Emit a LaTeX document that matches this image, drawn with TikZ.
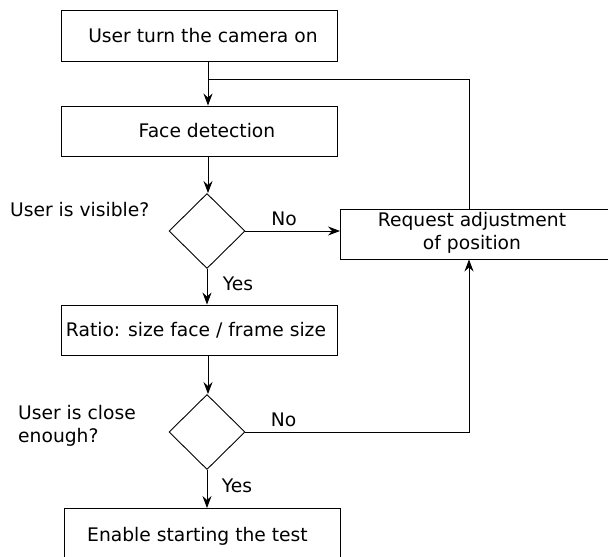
\documentclass[tikz,border=0pt]{standalone}
\usepackage{fontspec}
\setmainfont{DejaVu Sans}
\usetikzlibrary{shapes.geometric,arrows.meta}
\begin{document}
\begin{tikzpicture}[x=1pt,y=-1pt,
  every node/.style={font=\fontsize{18.7}{23.5}\selectfont, inner sep=0pt},
  procbox/.style={draw, line width=0.9pt, rectangle, minimum width=276pt, minimum height=50pt},
  decbox/.style={draw, line width=0.9pt, diamond, minimum width=76pt, minimum height=75pt},
  arr/.style={line width=0.9pt, -{Stealth[length=12pt,width=9pt,inset=4pt]}},
  plain/.style={line width=0.9pt}]
\useasboundingbox (0,0) rectangle (608,557);
\clip (0,0) rectangle (608,557);
% process boxes
\node[procbox, minimum height=51pt] (box1) at (199,35.5) {\hspace*{8pt}User turn the camera on};
\node[procbox] (box2) at (199,131) {\hspace*{16pt}Face detection};
\node[decbox] (dia1) at (207,231) {};
\node[procbox] (box3) at (199,330) {Ratio: size face / frame size\hspace*{6pt}};
\node[decbox] (dia2) at (207,432) {};
\node[procbox, minimum height=56pt, anchor=north] (box4) at (202,508) {Enable starting the test\hspace*{9pt}};
% request box (extends beyond the right edge)
\node[draw, line width=0.9pt, rectangle, minimum width=300pt, minimum height=50pt, anchor=west] (req) at (340,234) {};
\node[align=center] (reqtext) at (472,233) {Request adjustment\\of position};
% labels
\node[anchor=base west] (vis) at (10,216) {User is visible?};
\node[anchor=west, align=left] (close) at (18,425.6) {User is close\\enough?};
\node[anchor=base] (no1) at (284,225) {No};
\node[anchor=base] (yes1) at (238,290) {Yes};
\node[anchor=base] (no2) at (283.5,426) {No};
\node[anchor=base] (yes2) at (237,492) {Yes};
% helper coordinates
\coordinate (ax) at (208,0);
\coordinate (jn) at (208,79);
\coordinate (tap) at (469,79);
% connectors
\draw[arr] (box1.south -| ax) -- (box2.north -| ax);
\draw[plain] (tap |- req.north) -- (tap) -- (jn);
\draw[arr] (box2.south -| ax) -- (dia1.north -| ax);
\draw[arr] (dia1.east) -- (req.west |- dia1.east);
\draw[arr] (dia1.south) -- (box3.north -| dia1.south);
\draw[arr] (box3.south -| ax) -- (dia2.north -| ax);
\draw[arr] (dia2.east) -| (tap |- req.south);
\draw[arr] (dia2.south) -- (box4.north -| dia2.south);
\end{tikzpicture}
\end{document}
